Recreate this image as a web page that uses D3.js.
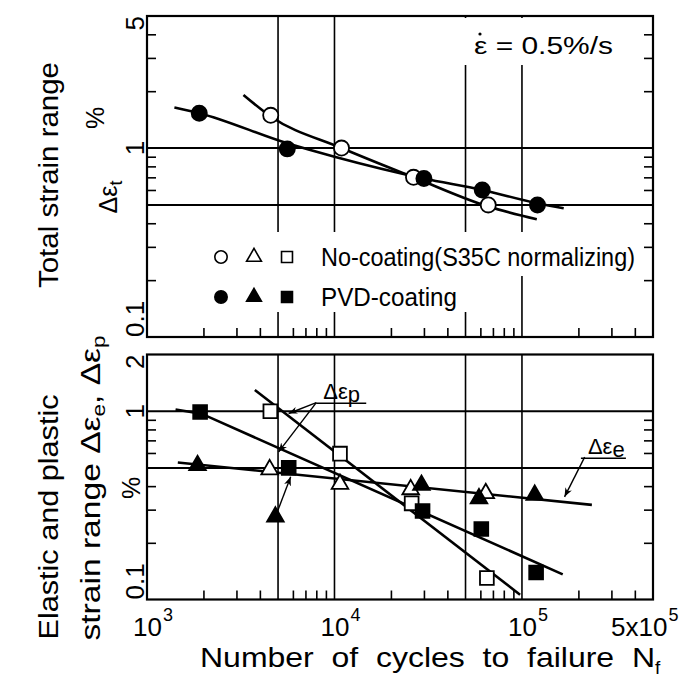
<!DOCTYPE html>
<html>
<head>
<meta charset="utf-8">
<script src="https://cdn.jsdelivr.net/npm/d3@7"></script>
<style>
  body { margin: 0; background: #fff; }
  svg { display: block; font-family: "Liberation Sans", Arial, sans-serif; }
</style>
</head>
<body>
<div id="chart"></div>
<script>
// axis values and tick labels
let xDomain = [1e3, 5e5];
let topDomain = [0.1, 5];
let botDomain = [0.1, 2];
let xGridVals = [5e3, 1e4, 5e4, 1e5];
let yGridVals = [0.5, 1];
let xMinorVals = [2e3, 3e3, 4e3, 6e3, 7e3, 8e3, 9e3, 2e4, 3e4, 4e4, 6e4, 7e4, 8e4, 9e4, 2e5, 3e5, 4e5];
let topMinorVals = [0.2, 0.3, 0.4, 0.6, 0.7, 0.8, 0.9, 2, 3, 4];
let botMinorVals = [0.2, 0.3, 0.4, 0.6, 0.7, 0.8, 0.9];
let xLabelVals = [1e3, 1e4, 1e5, 5e5];
let xLabelPre = ["", "", "", "5x"];
let xLabelExp = ["3", "4", "5", "5"];
let topLabelVals = [5, 1, 0.1];
let topLabelText = ["5", "1", "0.1"];
let botLabelVals = [2, 1, 0.1];
let botLabelText = ["2", "1", "0.1"];

// total strain range (top panel), points
let noCoatN = [4570, 10900, 26400, 66100];
let noCoatTotal = [1.49, 1.0, 0.70, 0.50];
let pvdN = [1900, 5600, 30000, 61400, 121000];
let pvdTotal = [1.53, 0.99, 0.69, 0.60, 0.50];

// fitted curves
let noCoatCurveN = [3270, 4570, 10900, 26400, 66100, 120000];
let noCoatCurveV = [1.91, 1.47, 1.0, 0.70, 0.49, 0.42];
let pvdCurveN = [1400, 1900, 5600, 10000, 30000, 61400, 121000, 167000];
let pvdCurveV = [1.64, 1.53, 1.06, 0.90, 0.69, 0.60, 0.51, 0.48];

// elastic / plastic (bottom panel), points
let noCoatPN = [4550, 10700, 25800, 65000];
let noCoatP = [1.0, 0.595, 0.324, 0.130];
let pvdPN = [1920, 5700, 29500, 60700, 119000];
let pvdP = [0.99, 0.50, 0.295, 0.237, 0.139];
let noCoatEN = [4510, 10700, 25500, 64100];
let noCoatE = [0.49, 0.41, 0.384, 0.366];
let pvdEN = [1860, 4840, 29100, 59000, 117000];
let pvdE = [0.516, 0.275, 0.405, 0.344, 0.359];

// fitted lines in the bottom panel
let eLineN = [1460, 236000];
let eLineV = [0.534, 0.318];
let pvdPLineN = [1420, 1950, 165000];
let pvdPLineV = [1.02, 0.97, 0.136];
let noCoatPLineN = [3760, 97700];
let noCoatPLineV = [1.296, 0.106];

let width = 689;
let height = 679;

let svg = d3
  .select("#chart")
  .append("svg")
  .attr("width", width)
  .attr("height", height);

svg.append("defs")
  .append("marker")
  .attr("id", "arrow")
  .attr("viewBox", "0 0 10 10")
  .attr("refX", 10)
  .attr("refY", 5)
  .attr("markerWidth", 9)
  .attr("markerHeight", 9)
  .attr("markerUnits", "userSpaceOnUse")
  .attr("orient", "auto")
  .append("path")
  .attr("d", "M0,1 L10,5 L0,9 L3,5 z")
  .attr("fill", "#000");

let xScale = d3.scaleLog().domain(xDomain).range([147, 653]);
let yTop = d3.scaleLog().domain(topDomain).range([337, 16]);
let yBot = d3.scaleLog().domain(botDomain).range([599.5, 354.5]);

function zip(a, b) {
  return a.map(function(d, i) { return [d, b[i]]; });
}

function drawPanel(yScale, minorVals, masks) {
  let g = svg.append("g");
  let x0 = xScale(xDomain[0]), x1 = xScale(xDomain[1]);
  let yA = yScale.range()[1], yB = yScale.range()[0];

  g.selectAll(".vgrid")
    .data(xGridVals)
    .enter()
    .append("line")
    .attr("x1", function(d) { return xScale(d); })
    .attr("x2", function(d) { return xScale(d); })
    .attr("y1", yA)
    .attr("y2", yB)
    .attr("stroke", "#000")
    .attr("stroke-width", 1.6);

  g.selectAll(".hgrid")
    .data(yGridVals)
    .enter()
    .append("line")
    .attr("x1", x0)
    .attr("x2", x1)
    .attr("y1", function(d) { return yScale(d); })
    .attr("y2", function(d) { return yScale(d); })
    .attr("stroke", "#000")
    .attr("stroke-width", 2);

  // gridlines stop short of the texts
  masks.forEach(function(m) {
    g.append("rect")
      .attr("x", m[0]).attr("y", m[1])
      .attr("width", m[2]).attr("height", m[3])
      .attr("fill", "#fff");
  });

  // minor ticks, pointing inward
  let bottomAxis = d3.axisBottom(xScale).tickValues(xMinorVals).tickSize(-9).tickFormat("");
  let leftAxis = d3.axisLeft(yScale).tickValues(minorVals).tickSize(-9).tickFormat("");
  let rightAxis = d3.axisRight(yScale).tickValues(minorVals).tickSize(-9).tickFormat("");

  g.append("g").attr("transform", "translate(0," + yB + ")").call(bottomAxis);
  g.append("g").attr("transform", "translate(" + x0 + ",0)").call(leftAxis);
  g.append("g").attr("transform", "translate(" + x1 + ",0)").call(rightAxis);
  g.selectAll(".domain").remove();
  g.selectAll(".tick line").attr("stroke-width", 1.6);

  g.append("rect")
    .attr("x", x0).attr("y", yA)
    .attr("width", x1 - x0).attr("height", yB - yA)
    .attr("fill", "none")
    .attr("stroke", "#000")
    .attr("stroke-width", 2.2);
}

drawPanel(yTop, topMinorVals, [[455, 18, 186, 47], [205, 232, 437, 44], [205, 274, 268, 38]]);
drawPanel(yBot, botMinorVals, []);

function fitLine(nArr, vArr, yScale, smooth) {
  let line = d3.line()
    .x(function(d) { return xScale(d[0]); })
    .y(function(d) { return yScale(d[1]); })
    .curve(smooth ? d3.curveMonotoneX : d3.curveLinear);
  svg.append("path")
    .attr("d", line(zip(nArr, vArr)))
    .attr("fill", "none")
    .attr("stroke", "#000")
    .attr("stroke-width", 2.6);
}

fitLine(noCoatCurveN, noCoatCurveV, yTop, true);
fitLine(pvdCurveN, pvdCurveV, yTop, true);
fitLine(eLineN, eLineV, yBot, false);
fitLine(pvdPLineN, pvdPLineV, yBot, false);
fitLine(noCoatPLineN, noCoatPLineV, yBot, false);

function arrow(n0, v0, n1, v1, yScale) {
  svg.append("line")
    .attr("x1", xScale(n0)).attr("y1", yScale(v0))
    .attr("x2", xScale(n1)).attr("y2", yScale(v1))
    .attr("stroke", "#000")
    .attr("stroke-width", 1.4)
    .attr("marker-end", "url(#arrow)");
}

arrow(8000, 1.11, 5690, 0.972, yBot);
arrow(8000, 1.11, 5035, 0.608, yBot);
arrow(216000, 0.57, 168700, 0.351, yBot);
arrow(5000, 0.299, 5840, 0.448, yBot);

function markers(nArr, vArr, yScale, shape, filled, size) {
  let sym = d3.symbol().type(shape).size(size);
  svg.append("g")
    .selectAll("path")
    .data(zip(nArr, vArr))
    .enter()
    .append("path")
    .attr("d", sym)
    .attr("transform", function(d) {
      return "translate(" + xScale(d[0]) + "," + yScale(d[1]) + ")";
    })
    .attr("fill", filled ? "#000" : "#fff")
    .attr("stroke", "#000")
    .attr("stroke-width", 1.8);
}

markers(noCoatN, noCoatTotal, yTop, d3.symbolCircle, false, 180);
markers(pvdN, pvdTotal, yTop, d3.symbolCircle, true, 180);
markers(noCoatPN, noCoatP, yBot, d3.symbolSquare, false, 190);
markers(pvdPN, pvdP, yBot, d3.symbolSquare, true, 190);
markers(noCoatEN, noCoatE, yBot, d3.symbolTriangle, false, 120);
markers(pvdEN, pvdE, yBot, d3.symbolTriangle, true, 120);

// legend
let legendRows = [
  { y: 257, filled: false, label: "No-coating(S35C normalizing)", len: 314 },
  { y: 297, filled: true, label: "PVD-coating", len: 136 }
];
let legendShapes = [d3.symbolCircle, d3.symbolTriangle, d3.symbolSquare];
legendRows.forEach(function(r) {
  legendShapes.forEach(function(s, i) {
    svg.append("path")
      .attr("d", d3.symbol().type(s).size(i === 1 ? 95 : 120)())
      .attr("transform", "translate(" + (221 + i * 33) + "," + r.y + ")")
      .attr("fill", r.filled ? "#000" : "#fff")
      .attr("stroke", "#000")
      .attr("stroke-width", 1.6);
  });
  svg.append("text")
    .attr("x", 321)
    .attr("y", r.y + 9)
    .attr("font-size", 25)
    .attr("textLength", r.len)
    .attr("lengthAdjust", "spacingAndGlyphs")
    .text(r.label);
});

// strain rate note, with the rate dot over the epsilon
svg.append("text")
  .attr("x", 474)
  .attr("y", 54)
  .attr("font-size", 23)
  .attr("textLength", 139)
  .attr("lengthAdjust", "spacingAndGlyphs")
  .attr("xml:space", "preserve")
  .text("\u03B5 = 0.5%/s");
svg.append("circle")
  .attr("cx", 480)
  .attr("cy", 34)
  .attr("r", 1.6)
  .attr("fill", "#000");

// delta-eps labels with underline
function deltaLabel(xp, yp, sub, w) {
  let t = svg.append("text")
    .attr("x", xp)
    .attr("y", yp)
    .attr("font-size", 22);
  t.append("tspan").text("\u0394\u03B5");
  t.append("tspan").attr("dy", 3).text(sub);
  svg.append("line")
    .attr("x1", xp - 7).attr("x2", xp - 7 + w)
    .attr("y1", yp + 4).attr("y2", yp + 4)
    .attr("stroke", "#000").attr("stroke-width", 1.5);
}
deltaLabel(xScale(8710), yBot(1.158), "p", 50);
deltaLabel(xScale(224800), yBot(0.591), "e", 45);

// x tick labels: "10" centred on the tick, exponent raised
xLabelVals.forEach(function(v, i) {
  let xp = xScale(v);
  let pre = xLabelPre[i];
  let t = svg.append("text")
    .attr("x", xp - 14 - (pre ? 28 : 0))
    .attr("y", 636)
    .attr("font-size", 26);
  t.append("tspan").text(pre + "10");
  t.append("tspan")
    .attr("dx", 1)
    .attr("dy", -15)
    .attr("font-size", 18)
    .text(xLabelExp[i]);
});

// y tick labels, rotated like the titles
function yLabels(vals, texts, yScale) {
  let dom = yScale.domain();
  vals.forEach(function(v, i) {
    let anchor = "middle";
    if (v === dom[1]) anchor = "end";
    if (v === dom[0]) anchor = "start";
    svg.append("text")
      .attr("transform", "translate(144," + yScale(v) + ") rotate(-90)")
      .attr("text-anchor", anchor)
      .attr("font-size", 26)
      .text(texts[i]);
  });
}
yLabels(topLabelVals, topLabelText, yTop);
yLabels(botLabelVals, botLabelText, yBot);

// axis titles
let xt = svg.append("text")
  .attr("x", 200)
  .attr("y", 667)
  .attr("font-size", 28)
  .attr("xml:space", "preserve");
xt.append("tspan")
  .attr("textLength", 455)
  .attr("lengthAdjust", "spacingAndGlyphs")
  .text("Number  of  cycles  to  failure  N");
xt.append("tspan")
  .attr("dy", 7)
  .attr("font-size", 19)
  .text("f");

function rotText(xp, yp, size, len) {
  let t = svg.append("text")
    .attr("transform", "translate(" + xp + "," + yp + ") rotate(-90)")
    .attr("text-anchor", "middle")
    .attr("font-size", size);
  if (len) t.attr("textLength", len).attr("lengthAdjust", "spacingAndGlyphs");
  return t;
}

rotText(58, 175, 27, 226).text("Total strain range");
rotText(104, 118, 25).text("%");
let dt = rotText(117, 197, 25);
dt.append("tspan").text("\u0394\u03B5");
dt.append("tspan").attr("dy", 5).attr("font-size", 18).text("t");

rotText(58, 517, 27, 245).text("Elastic and plastic");
let sr = rotText(100, 488, 27, 305);
sr.append("tspan").text("strain range \u0394\u03B5");
sr.append("tspan").attr("dy", 5).attr("font-size", 18).text("e");
sr.append("tspan").attr("dy", -5).text(", \u0394\u03B5");
sr.append("tspan").attr("dy", 5).attr("font-size", 18).text("p");
rotText(140, 488, 25).text("%");
</script>
</body>
</html>
